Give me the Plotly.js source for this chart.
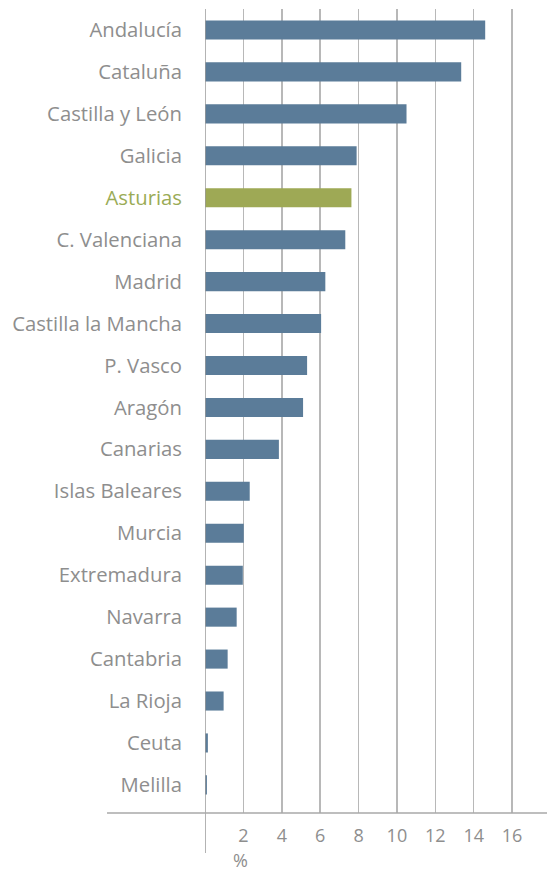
<!DOCTYPE html>
<html>
<head>
<meta charset="utf-8">
<script src="https://cdn.plot.ly/plotly-3.0.1.min.js"></script>
<style>html,body{margin:0;padding:0;background:#fff;}#chart{width:547px;height:872px;}</style>
</head>
<body>
<div id="chart"></div>
<script>
const regions = ["Andalucía","Cataluña","Castilla y León","Galicia","Asturias","C. Valenciana","Madrid","Castilla la Mancha","P. Vasco","Aragón","Canarias","Islas Baleares","Murcia","Extremadura","Navarra","Cantabria","La Rioja","Ceuta","Melilla"];
const values = [14.6,13.35,10.5,7.9,7.63,7.31,6.27,6.05,5.32,5.11,3.85,2.33,2.02,1.97,1.65,1.18,0.97,0.15,0.1];
const highlight = "Asturias";
const xTicks = [2,4,6,8,10,12,14,16];
const unitLabel = "%";

const blue = "#5b7c99", green = "#9ea955", labelGrey = "#8e8e8e", labelGreen = "#9aab56";
const colors = regions.map(r => r === highlight ? green : blue);
const tickText = regions.map(r => r === highlight ? '<span style="color:' + labelGreen + '">' + r + '</span>' : r);

const trace = {
  type: "bar", orientation: "h",
  y: regions, x: values,
  marker: {color: colors, line: {width: 0}},
  hoverinfo: "x+y"
};
const layout = {
  width: 547, height: 872,
  margin: {l: 205, r: 0, t: 9, b: 59},
  paper_bgcolor: "#fff", plot_bgcolor: "#fff",
  bargap: 0.545,
  showlegend: false,
  font: {family: "Open Sans, Noto Sans, sans-serif", color: labelGrey, size: 18},
  xaxis: {
    range: [0, 17.82], tickmode: "array", tickvals: xTicks, ticktext: xTicks.map(String),
    showgrid: true, gridcolor: "#b8b8b8", gridwidth: 1.5,
    zeroline: false, showline: false, ticks: "",
    tickfont: {size: 18, color: labelGrey}, ticklabelstandoff: 10, fixedrange: true
  },
  yaxis: {
    type: "category", categoryorder: "array", categoryarray: regions,
    range: [18.67, -0.5],
    tickmode: "array", tickvals: regions, ticktext: tickText,
    showgrid: false, zeroline: false, showline: false, ticks: "",
    tickfont: {size: 20.3, color: labelGrey}, ticklabelstandoff: 22, fixedrange: true
  },
  shapes: [
    {type: "line", xref: "x", yref: "paper", x0: 0, x1: 0, y0: -0.0498, y1: 1, line: {color: "#9a9a9a", width: 1.5}},
    {type: "line", xref: "paper", yref: "paper", x0: -0.2865, x1: 1, y0: 0, y1: 0, line: {color: "#a8a8a8", width: 1.5}}
  ],
  annotations: [
    {text: unitLabel, xref: "x", yref: "paper", x: 1.83, y: -0.0585, showarrow: false, font: {size: 18, color: labelGrey}, xanchor: "center", yanchor: "middle"}
  ]
};
Plotly.newPlot("chart", [trace], layout, {displayModeBar: false, staticPlot: true});
</script>
</body>
</html>
